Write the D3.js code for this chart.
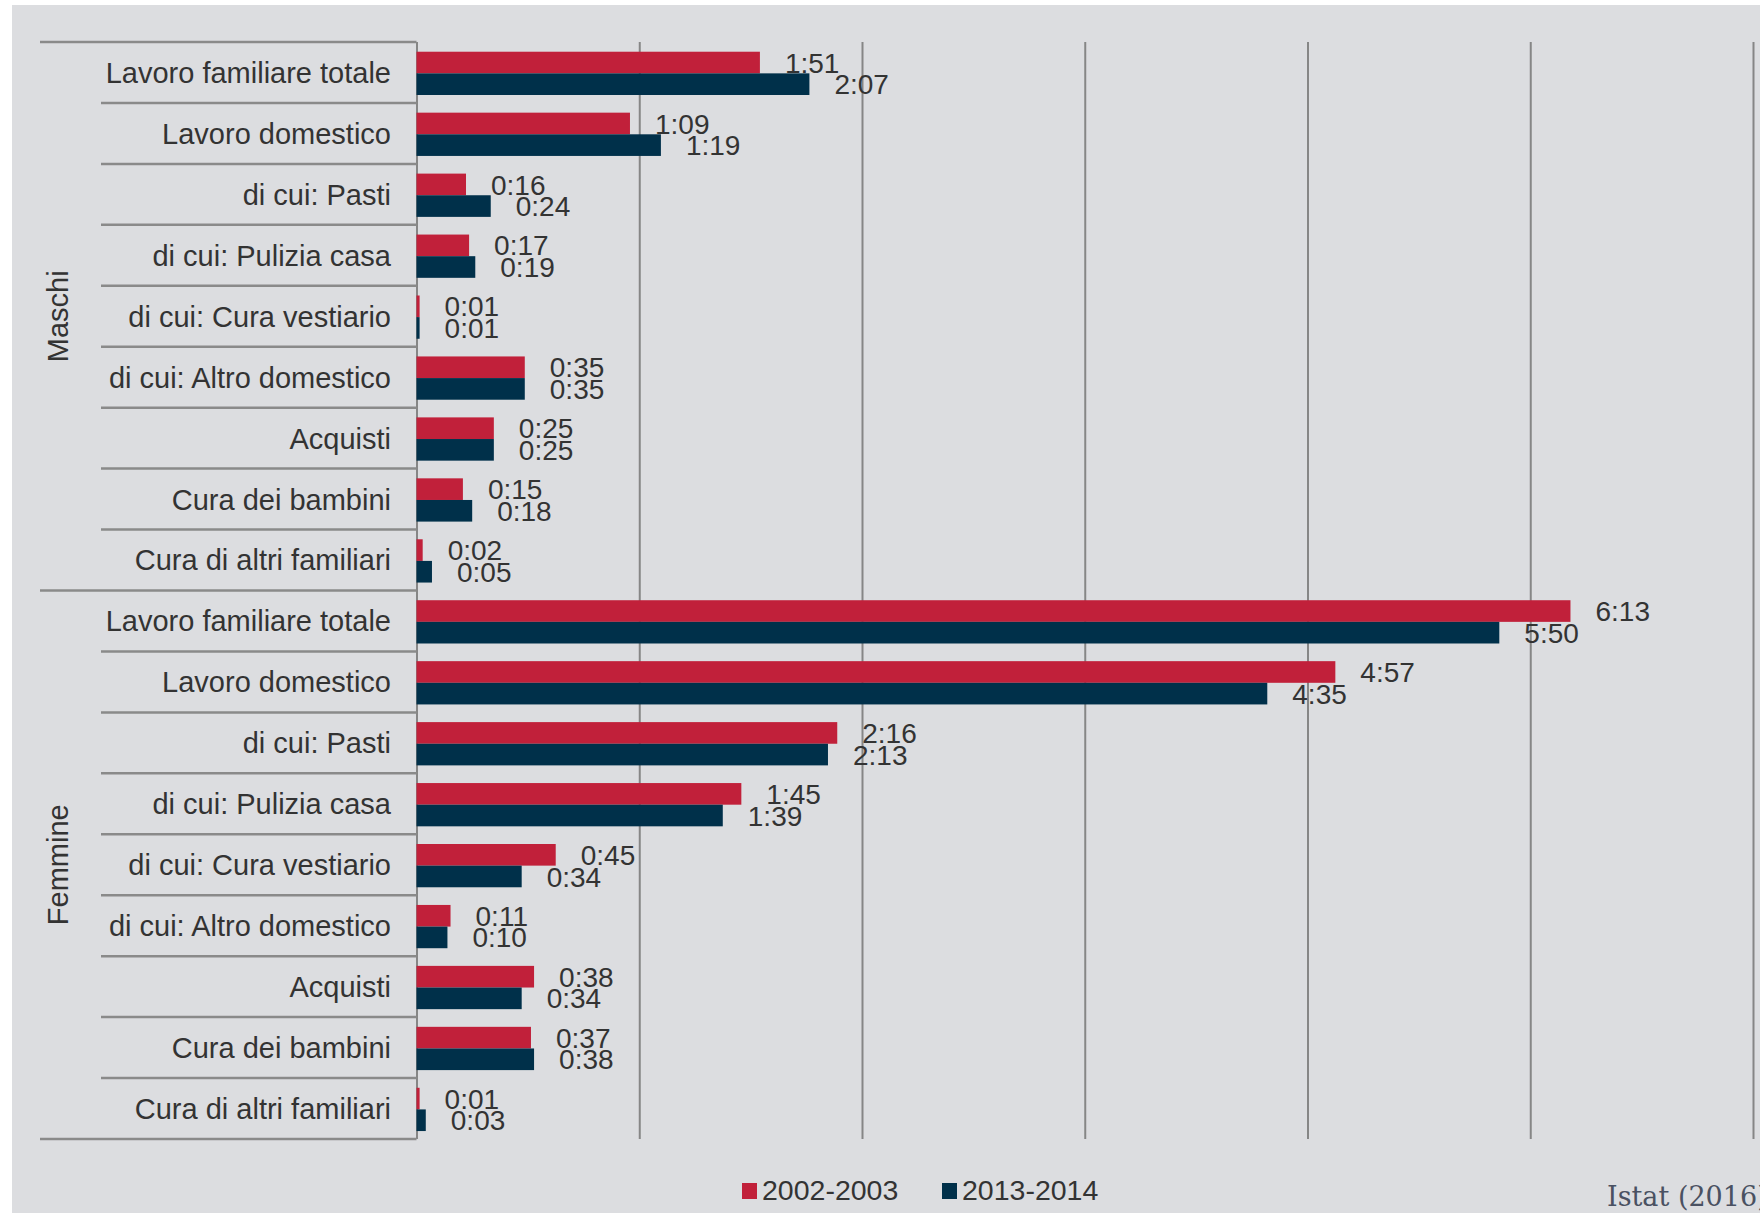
<!DOCTYPE html>
<html>
<head>
<meta charset="utf-8">
<script src="https://cdn.jsdelivr.net/npm/d3@7"></script>
<style>
  body { margin: 0; background: #fff; }
  svg { display: block; font-family: "Liberation Sans", Arial, sans-serif; }
</style>
</head>
<body>
<div id="chart"></div>
<script>
// DATA (hh:mm per giorno)
const groups = ["Maschi", "Femmine"];
const categories = [
  "Lavoro familiare totale",
  "Lavoro domestico",
  "di cui: Pasti",
  "di cui: Pulizia casa",
  "di cui: Cura vestiario",
  "di cui: Altro domestico",
  "Acquisti",
  "Cura dei bambini",
  "Cura di altri familiari"
];
const series = ["2002-2003", "2013-2014"];
const maschi2002 = ["1:51", "1:09", "0:16", "0:17", "0:01", "0:35", "0:25", "0:15", "0:02"];
const maschi2013 = ["2:07", "1:19", "0:24", "0:19", "0:01", "0:35", "0:25", "0:18", "0:05"];
const femmine2002 = ["6:13", "4:57", "2:16", "1:45", "0:45", "0:11", "0:38", "0:37", "0:01"];
const femmine2013 = ["5:50", "4:35", "2:13", "1:39", "0:34", "0:10", "0:34", "0:38", "0:03"];
const gridTicks = [0, 72, 144, 216, 288, 360, 432]; // minuti (passo 1:12)
const source = "Istat (2016)";

const COLORS = { "2002-2003": "#c1203a", "2013-2014": "#00304a" };
const W = 1760, H = 1213;
const PLOT = { left: 416.5, right: 1753, top: 42, bottom: 1139 };

const toMin = s => { const [h, m] = s.split(":").map(Number); return h * 60 + m; };

const values = { Maschi: [maschi2002, maschi2013], Femmine: [femmine2002, femmine2013] };
const rows = [];
groups.forEach(g => categories.forEach((c, i) => {
  rows.push({
    key: g + "|" + c, group: g, cat: c,
    bars: series.map((s, j) => ({ series: s, label: values[g][j][i], v: toMin(values[g][j][i]) }))
  });
}));

// SVG
const svg = d3.select("#chart").append("svg").attr("width", W).attr("height", H);
svg.append("rect").attr("x", 12).attr("y", 5).attr("width", W - 12).attr("height", H - 5).attr("fill", "#dcdde0");

// SCALES
const x = d3.scaleLinear().domain([0, 432]).range([PLOT.left, PLOT.right]);
const y = d3.scaleBand().domain(rows.map(d => d.key)).range([PLOT.top, PLOT.bottom])
  .paddingInner(0.29).paddingOuter(0.145).align(0.55);
const yInner = d3.scaleBand().domain(series).range([0, y.bandwidth()]);

// GRID
const grid = svg.append("g").attr("transform", `translate(0, ${PLOT.bottom})`)
  .call(d3.axisBottom(x).tickValues(gridTicks).tickSize(-(PLOT.bottom - PLOT.top)).tickFormat(""));
grid.select(".domain").remove();
grid.selectAll(".tick line").attr("stroke", "#868686").attr("stroke-width", 2);

// ROW SEPARATORS
const step = y.step();
d3.range(rows.length + 1).forEach(i => {
  svg.append("line")
    .attr("x1", i % categories.length === 0 ? 40 : 101)
    .attr("x2", PLOT.left)
    .attr("y1", PLOT.top + i * step).attr("y2", PLOT.top + i * step)
    .attr("stroke", "#8a8a8a").attr("stroke-width", 2.5);
});

// BARS
const rowG = svg.selectAll(".row").data(rows).enter().append("g")
  .attr("transform", d => `translate(0, ${y(d.key)})`);

rowG.selectAll("rect").data(d => d.bars).enter().append("rect")
  .attr("x", x(0))
  .attr("y", d => yInner(d.series))
  .attr("width", d => x(d.v) - x(0))
  .attr("height", yInner.bandwidth())
  .attr("fill", d => COLORS[d.series]);

rowG.selectAll("text.val").data(d => d.bars).enter().append("text")
  .attr("class", "val")
  .attr("x", d => x(d.v) + 25)
  .attr("y", d => yInner(d.series) + yInner.bandwidth() / 2)
  .attr("dy", "0.36em")
  .attr("font-size", 28)
  .attr("fill", "#333")
  .text(d => d.label);

// CATEGORY LABELS
svg.selectAll(".cat").data(rows).enter().append("text")
  .attr("x", 391)
  .attr("y", (d, i) => PLOT.top + (i + 0.5) * step)
  .attr("dy", "0.36em")
  .attr("text-anchor", "end")
  .attr("font-size", 29)
  .attr("fill", "#333")
  .text(d => d.cat);

// GROUP LABELS
groups.forEach((g, gi) => {
  const cy = PLOT.top + (gi * categories.length + categories.length / 2) * step;
  svg.append("text")
    .attr("transform", `translate(58, ${cy}) rotate(-90)`)
    .attr("dy", "0.36em")
    .attr("text-anchor", "middle")
    .attr("font-size", 29)
    .attr("fill", "#333")
    .text(g);
});

// LEGEND
const legendX = [742, 942];
series.forEach((s, i) => {
  svg.append("rect").attr("x", legendX[i]).attr("y", 1183).attr("width", 15).attr("height", 16)
    .attr("fill", COLORS[s]);
  svg.append("text").attr("x", legendX[i] + 20).attr("y", 1200)
    .attr("font-size", 28.5).attr("fill", "#333").text(s);
});

// SOURCE
svg.append("text").attr("x", 1607).attr("y", 1206)
  .attr("font-family", "'DejaVu Serif', Georgia, serif")
  .attr("font-size", 27).attr("fill", "#4a5162").text(source);
</script>
</body>
</html>
